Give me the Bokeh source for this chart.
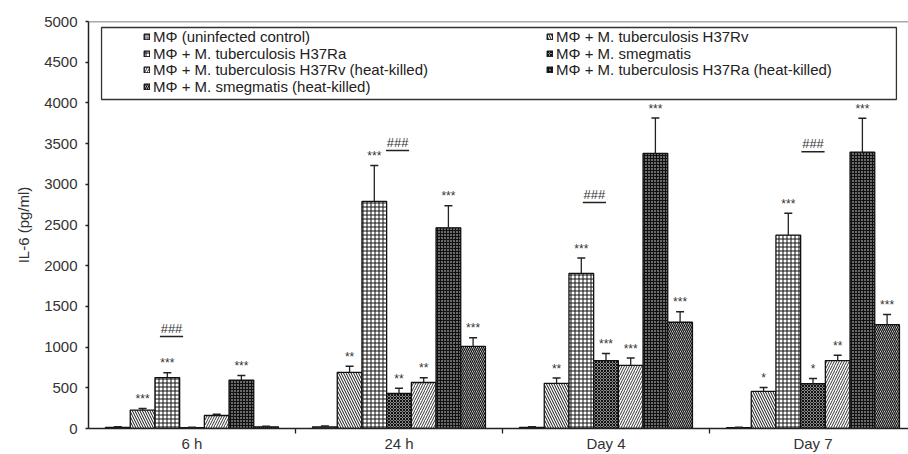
import numpy as np
from bokeh.plotting import figure
from bokeh.models import (ColumnDataSource, Whisker, TeeHead, Legend, LegendItem,
                          FixedTicker, BoxAnnotation, Range1d, Span)
from bokeh.core.properties import value
from bokeh.embed import file_html
from bokeh.resources import INLINE

groups = ["6 h", "24 h", "Day 4", "Day 7"]
series = [
    "MΦ (uninfected control)",
    "MΦ + M. tuberculosis H37Rv",
    "MΦ + M. tuberculosis H37Ra",
    "MΦ + M. smegmatis",
    "MΦ + M. tuberculosis H37Rv (heat-killed)",
    "MΦ + M. tuberculosis H37Ra (heat-killed)",
    "MΦ + M. smegmatis (heat-killed)",
]

ctrl = [15, 20, 15, 10]
ctrl_err = [8, 10, 8, 5]
rv = [225, 690, 555, 455]
rv_err = [20, 75, 65, 50]
ra = [625, 2790, 1905, 2375]
ra_err = [60, 440, 190, 270]
smeg = [10, 430, 835, 550]
smeg_err = [5, 65, 85, 65]
rv_hk = [160, 565, 775, 835]
rv_hk_err = [15, 60, 90, 65]
ra_hk = [595, 2465, 3380, 3395]
ra_hk_err = [55, 270, 435, 415]
smeg_hk = [20, 1010, 1305, 1275]
smeg_hk_err = [8, 105, 130, 125]

ctrl_sig = ["", "", "", ""]
rv_sig = ["***", "**", "**", "*"]
ra_sig = ["***", "***", "***", "***"]
smeg_sig = ["", "**", "***", "*"]
rv_hk_sig = ["", "**", "***", "**"]
ra_hk_sig = ["***", "***", "***", "***"]
smeg_hk_sig = ["", "***", "***", "***"]

hash_labels = ["###", "###", "###", "###"]
hash_level = [1130, 3415, 2776, 3400]

values = [ctrl, rv, ra, smeg, rv_hk, ra_hk, smeg_hk]
errors = [ctrl_err, rv_err, ra_err, smeg_err, rv_hk_err, ra_hk_err, smeg_hk_err]
sigs = [ctrl_sig, rv_sig, ra_sig, smeg_sig, rv_hk_sig, ra_hk_sig, smeg_hk_sig]

styles = [
    dict(fill_color="#a8a8a8", hatch_pattern=".", hatch_color="#555555", hatch_scale=3),
    dict(fill_color="white", hatch_pattern="\\", hatch_color="#111111", hatch_scale=5, hatch_weight=1),
    dict(fill_color="white", hatch_pattern="+", hatch_color="#111111", hatch_scale=4, hatch_weight=1),
    dict(fill_color="#8a8a8a", hatch_pattern="x", hatch_color="#111111", hatch_scale=3, hatch_weight=1),
    dict(fill_color="white", hatch_pattern="/", hatch_color="#333333", hatch_scale=5, hatch_weight=1),
    dict(fill_color="#6a6a6a", hatch_pattern="+", hatch_color="#111111", hatch_scale=3, hatch_weight=1),
    dict(fill_color="white", hatch_pattern="\\", hatch_color="#111111", hatch_scale=4, hatch_weight=1.3),
]

FONT = "Liberation Sans"
W, H = 908, 454
frame_left = 88
frame_bottom = 428
group_px = 207.0
x_end = -0.5 + (W - frame_left) / group_px

p = figure(width=W, height=H, output_backend="svg", toolbar_location=None,
           x_range=Range1d(-0.5, x_end), y_range=Range1d(0, 5000),
           min_border_left=frame_left, min_border_right=0, min_border_top=21,
           min_border_bottom=0)
p.outline_line_color = None
p.xgrid.visible = False
p.ygrid.visible = False
p.background_fill_color = "white"

bar_w = 24.7 / group_px
gx = np.arange(len(groups))

renderers = []
for k, (vals, errs, sg, st) in enumerate(zip(values, errors, sigs, styles)):
    xs = gx + (k - 3) * bar_w
    src = ColumnDataSource(dict(x=xs, top=vals, upper=np.array(vals) + np.array(errs),
                                sig=sg, sig_y=np.array(vals) + np.array(errs) + 30))
    r = p.vbar(x="x", top="top", bottom=0, width=bar_w, source=src,
               line_color="#111111", line_width=1.3, **st)
    renderers.append(r)
    wh = Whisker(source=src, base="x", upper="upper", lower="top", dimension="height",
                 line_color="#222222", line_width=1.3, level="overlay",
                 upper_head=TeeHead(size=8, line_color="#222222", line_width=1.5),
                 lower_head=None)
    p.add_layout(wh)
    p.text(x="x", y="sig_y", text="sig", source=src, text_align="center",
           text_baseline="bottom", text_font=value(FONT), text_font_size="12px",
           text_color="#333333")

# "###" markers
hash_x = gx + np.array([-0.83, -0.06, -0.47, 0.0]) * bar_w
hsrc = ColumnDataSource(dict(x=hash_x, y=np.array(hash_level) + 12, t=hash_labels,
                             x0=hash_x - 0.056, x1=hash_x + 0.056, yl=hash_level))
p.text(x="x", y="y", text="t", source=hsrc, text_align="center", text_baseline="bottom",
       text_font=value(FONT), text_font_size="13px", text_color="#333333")
p.segment(x0="x0", y0="yl", x1="x1", y1="yl", source=hsrc, line_color="#222222", line_width=1.5)

# axes
p.xaxis.ticker = FixedTicker(ticks=list(gx), minor_ticks=[0.5, 1.5, 2.5])
p.xaxis.major_label_overrides = {int(i): g for i, g in zip(gx, groups)}
p.xaxis.major_tick_out = 0
p.xaxis.major_tick_in = 0
p.xaxis.minor_tick_out = 5
p.xaxis.minor_tick_in = 0
p.xaxis.major_label_standoff = 1
p.yaxis.ticker = FixedTicker(ticks=list(range(0, 5001, 500)), minor_ticks=[])
p.yaxis.major_tick_out = 3
p.yaxis.major_tick_in = 0
p.yaxis.major_label_standoff = 8
p.yaxis.axis_label = "IL-6 (pg/ml)"
p.yaxis.axis_label_standoff = 9
for ax in (p.xaxis, p.yaxis):
    ax.axis_line_color = "#222222"
    ax.axis_line_width = 1.5
    ax.major_tick_line_color = "#222222"
    ax.minor_tick_line_color = "#222222"
    ax.major_tick_line_width = 1.3
    ax.minor_tick_line_width = 1.3
    ax.major_label_text_font = FONT
    ax.major_label_text_font_size = "15px"
    ax.major_label_text_color = "#333333"
    ax.axis_label_text_font = FONT
    ax.axis_label_text_font_size = "15px"
    ax.axis_label_text_font_style = "normal"
    ax.axis_label_text_color = "#333333"

p.add_layout(Span(location=5000, dimension="width", line_color="#555555", line_width=1.5))

# legend frame
p.add_layout(BoxAnnotation(left=-0.437, right=3.403, top=4926, bottom=4042,
                           fill_alpha=0, line_color="#333333", line_width=1.3, line_alpha=1))

# legend entries: two columns, one small legend per entry for tight row spacing
row_h = 17
col1 = [0, 2, 4, 6]
col2 = [1, 3, 5]
row_centers = [36.2, 53.0, 69.8, 86.6]
leg_common = dict(orientation="vertical", glyph_width=7, glyph_height=7, label_standoff=3,
                  padding=0, spacing=0, label_height=row_h, label_text_font=FONT,
                  label_text_font_size="15px", label_text_color="#222222",
                  border_line_color=None, background_fill_alpha=0, margin=0)
for col, left_px in ((col1, 143), (col2, 546)):
    for row, i in enumerate(col):
        loc = (left_px - frame_left, frame_bottom - row_centers[row] - row_h / 2)
        p.add_layout(Legend(items=[LegendItem(label=series[i], renderers=[renderers[i]])],
                            location=loc, **leg_common))

open("out.html", "w").write(file_html(p, INLINE))
